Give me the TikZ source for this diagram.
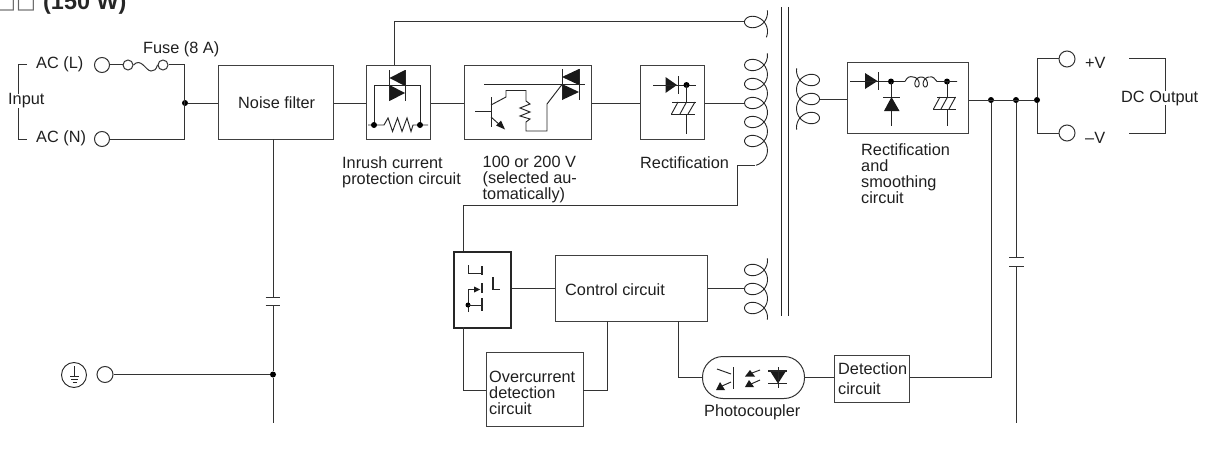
\documentclass[tikz,border=0pt]{standalone}
\usepackage{fontspec}
\setmainfont{Liberation Sans}
\newfontfamily\symfont{DejaVu Sans}
\begin{document}
\begin{tikzpicture}[x=1pt,y=-1pt,
  wire/.style={line width=1pt,color=black!80},
  blockbox/.style={draw=black!75,line width=1pt,inner sep=0pt,rectangle},
  lab/.style={inner sep=0pt,anchor=west,align=left,font=\fontsize{16.3}{16}\selectfont,text=black!88},
  term/.style={circle,draw=black!80,line width=1pt,fill=white,inner sep=0pt},
  dot/.style={circle,fill=black,inner sep=0pt,minimum size=6pt}]
\useasboundingbox (0,0) rectangle (1212,452);
\def\bx#1#2#3#4#5{\node[blockbox,minimum width=#4pt-#2pt,minimum height=#5pt-#3pt,anchor=north west] (#1) at (#2,#3) {};}
% coil macro: cx, y0 (first turn), first t, last t, direction
\def\coil#1#2#3#4#5{\draw[line width=0.9pt,color=black!85,smooth,samples=110,domain=#3:#4,variable=\t]
  plot ({#1-#5*11.5*cos(\t r)},{#2+19*\t/6.2832-10*sin(\t r)});}

% title
\node[anchor=base west,inner sep=0pt,font=\fontsize{23.4}{23}\selectfont\bfseries,text=black!85] (title) at (43,9.5) {(150 W)};
\node[anchor=base west,inner sep=0pt,font=\fontsize{21}{21}\selectfont\symfont,text=black!60] (titlebox) at (-4,8.5) {□□};

% blocks
\bx{nf}{218}{65}{333}{139}
\bx{ir}{366}{65}{430}{139}
\bx{sel}{464}{65}{591}{139}
\bx{rc}{640}{65}{704}{139}
\bx{rs}{847}{62}{968}{133}
\bx{ctl}{555}{255}{707}{321}
\bx{oc}{486}{352}{583}{426}
\bx{det}{834}{355}{909}{402}
\node[draw=black!85,line width=2.2pt,minimum width=57pt,minimum height=76pt,inner sep=0pt,anchor=north west] (sw) at (453,251) {};
\node[draw=black!80,line width=1pt,rounded corners=20.5pt,minimum width=102pt,minimum height=42pt,inner sep=0pt,anchor=north west] (pc) at (702,356) {};

% terminals
\node[term,minimum size=15pt] (tl) at (102,65) {};
\node[term,minimum size=15pt] (tn) at (102,139) {};
\node[term,minimum size=10pt] (f1) at (128,65) {};
\node[term,minimum size=10pt] (f2) at (163,65) {};
\node[term,minimum size=16pt] (tg) at (105,374.5) {};
\node[term,minimum size=16pt] (tp) at (1067,59) {};
\node[term,minimum size=16pt] (tm) at (1067,133) {};
\node[dot] (j1) at (185,103) {};
\node[dot] (j2) at (273,374.5) {};
\node[dot] (j3) at (991,100) {};
\node[dot] (j4) at (1016,100) {};
\node[dot] (j5) at (1037,100) {};

% coordinates
\coordinate (c1a) at (745,22);
\coordinate (c1b) at (745,103);
\coordinate (c3) at (745,288);
\coordinate (c2) at (820,99.5);
\coordinate (caplt) at (273,297);
\coordinate (caplb) at (273,305);
\coordinate (caprt) at (1016,257);
\coordinate (caprb) at (1016,266);
\coordinate (gbot) at (273,423);
\coordinate (rbot) at (1016,423);
\coordinate (c1e) at (755,165.5);
\coordinate (ctlb) at (678,321);

% input bracket
\draw[wire] (27,65) -- (18,65) -- (18,139) -- (27,139);
\node[lab,fill=white] (inp) at (8,101) {Input};
\node[lab] (acl) at (36,64) {AC (L)};
\node[lab] (acn) at (36,138) {AC (N)};
\node[lab] (fuse) at (143,49) {Fuse (8 A)};

% input wiring
\draw[wire] (tl) -- (f1);
\draw[wire] (f1.east) .. controls (141,57) and (146,71) .. (151,71) .. controls (154,71) and (156,70) .. (f2.west);
\draw[wire] (f2) -- (184,65) -- (184,139) -- (tn);
\draw[wire] (j1) -- (j1-|nf.west);
\draw[wire] (nf.east|-j1) -- (ir.west|-j1);
\draw[wire] (ir.east|-j1) -- (sel.west|-j1);
\draw[wire] (sel.east|-j1) -- (rc.west|-j1);
\draw[wire] (rc.east|-j1) -- (c1b);
\draw[wire] (394.5,65) -- (394.5,22) -- (c1a);
\draw[wire] (273,139) -- (caplt);
\draw[wire] (caplb) -- (j2) -- (gbot);
\draw[wire] (tg) -- (j2);
\draw[wire] (265.5,297) -- (280,297) (265.5,305) -- (280,305);

% transformer
\coil{756}{22}{-3.3}{3.6}{1}
\coil{756}{65}{-3.3}{29.85}{1}
\coil{756}{270}{-3.3}{15.87}{1}
\coil{808}{80}{-3.3}{15.87}{-1}
\draw[line width=1pt,color=black!85] (781,7) -- (781,316) (788,7) -- (788,316);
\draw[wire] (c1e) -- (737,165.5) -- (737,205.5) -- (463.5,205.5) -- (463.5,251);
\draw[wire] (c2) -- (c2-|rs.west);
\draw[wire] (rs.east|-j3) -- (j5);
\draw[wire] (j5) -- (1037,59) -- (tp);
\draw[wire] (j5) -- (1037,133) -- (tm);
\draw[wire] (j3) -- (j3|-pc.east) -- (det.east|-pc.east);
\draw[wire] (j4) -- (caprt);
\draw[wire] (caprb) -- (rbot);
\draw[wire] (1009,257) -- (1024,257) (1009,266) -- (1024,266);
\draw[wire] (pc.east) -- (det.west|-pc.east);
\draw[wire] (1129,59) -- (1165,59) -- (1165,133) -- (1129,133);
\node[lab,fill=white] (dco) at (1121,98) {DC Output};
\node[lab] (pv) at (1085,63) {+V};
\node[lab] (mv) at (1085,138) {–V};

% control wiring
\draw[wire] (sw.east|-ctl.west) -- (ctl.west);
\draw[wire] (ctl.east) -- (c3|-ctl.east);
\draw[wire] (463.5,327) -- (463.5,390) -- (486,390);
\draw[wire] (583,390) -- (607,390) -- (607,321);
\draw[wire] (ctlb) -- (ctlb|-pc.west) -- (pc.west);

% labels
\node[lab] (lnf) at (238,103) {Noise filter};
\node[lab,anchor=north west] (lir) at (342,156) {Inrush current\\protection circuit};
\node[lab,anchor=north west] (lsel) at (482.5,156) {100 or 200 V\\(selected au-\\tomatically)};
\node[lab] (lrc) at (640,163) {Rectification};
\node[lab,anchor=north west] (lrs) at (861,143) {Rectification\\and\\smoothing\\circuit};
\node[lab] (lctl) at (565,290) {Control circuit};
\node[lab,anchor=north west] (loc) at (489,371) {Overcurrent\\detection\\circuit};
\node[lab] (lpc) at (704,412) {Photocoupler};
\node[lab,anchor=north west,font=\fontsize{16.3}{20}\selectfont] (ldet) at (838,362) {Detection\\circuit};

\begin{scope}[line width=0.95pt,color=black!85]
% ---- inrush symbol
\fill[black!90] (405,70) -- (405,86) -- (389.5,78) -- cycle;
\fill[black!90] (389.5,85) -- (389.5,101) -- (405,93) -- cycle;
\draw (389.5,70) -- (389.5,101) (405.5,70) -- (405.5,101);
\draw (374,125) -- (374,85.5) -- (420,85.5) -- (420,125);
\draw (368,125) -- (384,125) -- (388,118) -- (392.5,131.5) -- (397.5,118) -- (402,131.5) -- (407,118) -- (411,131.5) -- (413,125) -- (428,125);
\fill[black] (374,125) circle (3) (420,125) circle (3);
% ---- selector symbol
\fill[black!90] (579,69) -- (579,85) -- (562,77) -- cycle;
\fill[black!90] (562,84) -- (562,100) -- (579,92) -- cycle;
\draw (562,69) -- (562,100) (579,69) -- (579,100);
\draw (484,84.5) -- (585,84.5);
\draw[line width=1pt] (491,97) -- (491,127);
\draw (475,111) -- (491,111);
\draw (491,105) -- (506,97) -- (506,90.5) -- (526,90.5) -- (526,101) -- (530,104) -- (520,108) -- (530,112) -- (520,116) -- (530,119) -- (526,122) -- (526,131) -- (547,131) -- (547,104) -- (562,84.5);
\draw (491,117) -- (501,126);
\fill[black!90] (505,129.5) -- (496,125.5) -- (501,120.5) -- cycle;
% ---- rectifier symbol
\fill[black!90] (665.5,77) -- (665.5,93) -- (677,85) -- cycle;
\draw (678,76) -- (678,94);
\draw (653,85) -- (696,85);
\fill[black] (686.5,85) circle (3);
\draw (686.5,85) -- (686.5,102) (686.5,114) -- (686.5,134);
\draw (672,102) -- (696,102) (671,114) -- (695,114);
\draw (671.5,114) -- (678,102) (680,114) -- (686.5,102) (688,114) -- (695,102);
% ---- rectifier + smoothing symbol
\fill[black!90] (865,73) -- (865,89) -- (877.5,81) -- cycle;
\draw (878,72) -- (878,90);
\draw (850,81.5) -- (905,81.5);
\fill[black] (891,81.5) circle (3) (947,81.5) circle (3);
\draw (891,81.5) -- (891,97) (891,111) -- (891,126);
\draw (883,97) -- (900,97);
\fill[black!90] (891.5,97) -- (884,111) -- (899.5,111) -- cycle;
\draw (905,81.5) .. controls (907,77) and (910,76) .. (913,77);
\draw[smooth,samples=50,domain=-3.1416:9.4248,variable=\t] plot ({917+8.3*\t/6.2832-4*sin(\t r)},{82+5*cos(\t r)});
\draw (929.5,77) .. controls (933,76) and (935,79) .. (937,81.5) -- (957,81.5);
\draw (947,81.5) -- (947,97) (947,109) -- (947,126);
\draw (937,97) -- (956,97) (933,109) -- (956,109);
\draw (933.5,109) -- (940,97) (941,109) -- (947.5,97) (949,109) -- (955.5,97);
% ---- switch symbol
\draw (468,265) -- (468,273) -- (482,273);
\draw[line width=1.6pt] (482,266) -- (482,274.5) (482,283) -- (482,293) (482,298) -- (482,311);
\draw (468,312) -- (468,289) -- (476,289);
\fill[black!90] (480,289.5) -- (474,286.5) -- (474,292.5) -- cycle;
\fill[black] (468,305) circle (2.5);
\draw (468,305) -- (482,305);
\draw[line width=1.6pt] (493,277) -- (493,289.5);
\draw (493,289) -- (500,289);
% ---- photocoupler symbol
\draw (733,367) -- (733,389);
\draw (717,369) -- (731,374);
\fill[black!90] (716,390) -- (725,390) -- (720,382) -- cycle;
\draw (722,386) -- (731,382);
\fill[black!90] (745,376.5) -- (755,376.5) -- (750,370) -- cycle;
\draw (752,373) -- (760,370);
\fill[black!90] (745,387) -- (754,387) -- (749,380) -- cycle;
\draw (751,384) -- (760,380);
\fill[black!90] (770,371) -- (786,371) -- (778,383.5) -- cycle;
\draw[line width=1.2pt] (768,371) -- (787,371) (768,383.5) -- (787,383.5);
\draw (778,367) -- (778,388);
% ---- ground symbol
\draw (74,375) circle (12.5);
\draw (74.5,366) -- (74.5,377);
\draw[line width=1.6pt] (70,376.5) -- (79,376.5);
\draw[line width=1.6pt] (71,379.5) -- (78,379.5);
\draw[line width=1.6pt] (72.5,382.5) -- (76.5,382.5);
\end{scope}
\end{tikzpicture}
\end{document}
